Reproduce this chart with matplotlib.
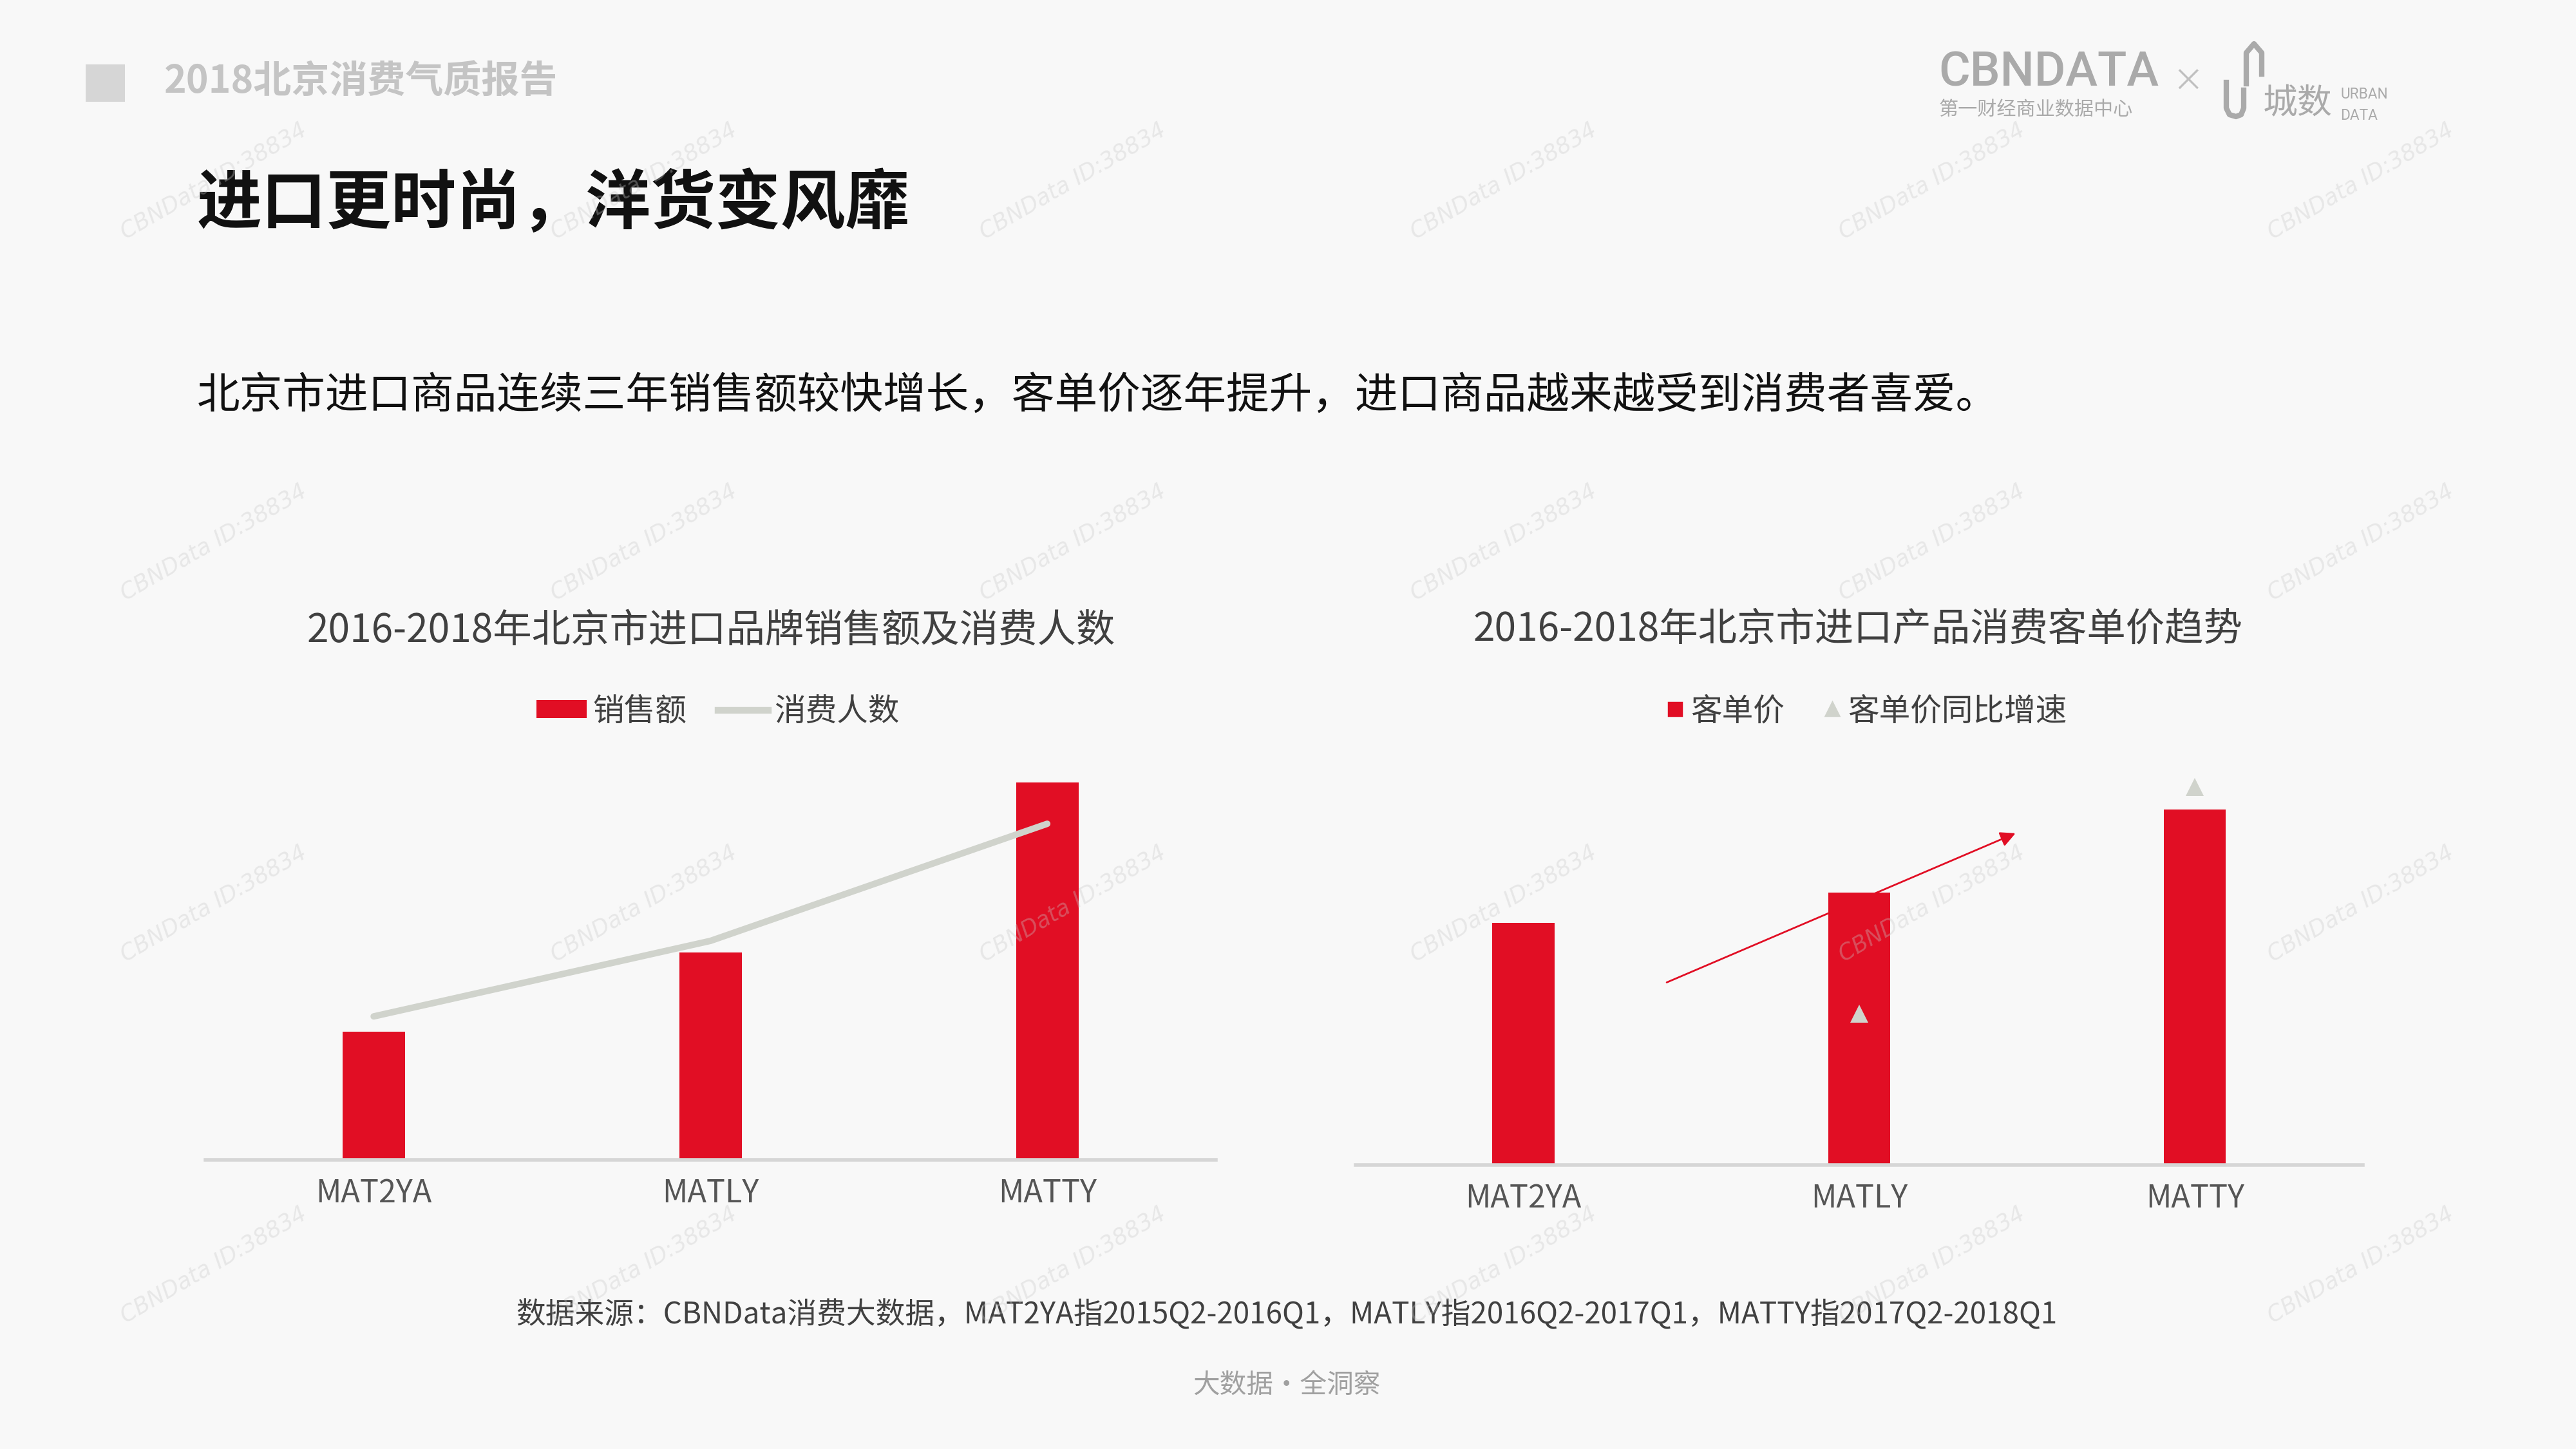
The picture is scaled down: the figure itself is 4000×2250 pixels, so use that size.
import matplotlib.pyplot as plt
from matplotlib.patches import Patch, Rectangle
from matplotlib.lines import Line2D

plt.rcParams['font.family'] = ['Noto Sans CJK SC', 'DejaVu Sans']

# data (relative index values, no axis values shown)
periods = ['MAT2YA', 'MATLY', 'MATTY']
sales_amount = [3.4, 5.5, 10.0]        # 销售额
consumers = [3.8, 5.8, 8.9]            # 消费人数
unit_price = [6.4, 7.2, 9.4]           # 客单价
unit_price_yoy = [float('nan'), 4.0, 10.0]  # 客单价同比增速

RED = '#e10e24'
LINE_GRAY = '#d0d3cc'
BG = '#f8f8f8'

fig = plt.figure(figsize=(16, 9), dpi=250, facecolor=BG)

# header block
fig.add_artist(Rectangle((0.0333, 0.9298), 0.0153, 0.0258, transform=fig.transFigure,
                         color='#d6d6d6', lw=0))
fig.text(0.0638, 0.9433, '2018北京消费气质报告', fontsize=17, fontweight='bold',
         color='#c4c4c4', va='center', ha='left')
fig.text(0.0765, 0.8585, '进口更时尚，洋货变风靡', fontsize=29, fontweight='bold',
         color='#111111', va='center', ha='left')
fig.text(0.0765, 0.7268, '北京市进口商品连续三年销售额较快增长，客单价逐年提升，进口商品越来越受到消费者喜爱。',
         fontsize=19.2, color='#111111', va='center', ha='left')

# logo (approximation)
LOGO = '#aaaaaa'
fig.text(0.7526, 0.950, 'CBNDATA', family='Roboto', fontsize=21.5, fontweight='medium',
         color=LOGO, va='center', ha='left')
fig.text(0.7526, 0.924, '第一财经商业数据中心', fontsize=8.7, color=LOGO, va='center', ha='left')
fig.text(0.8495, 0.943, '×', fontsize=14, color='#c0c0c0', va='center', ha='center')
fig.text(0.8785, 0.929, '城数', fontsize=15.5, color=LOGO, va='center', ha='left')
fig.text(0.9085, 0.935, 'URBAN', family='Roboto', fontsize=6.5, color=LOGO, va='center', ha='left')
fig.text(0.9085, 0.920, 'DATA', family='Roboto', fontsize=6.5, color=LOGO, va='center', ha='left')
ux = [3457, 3457, 3462, 3472, 3480, 3484, 3484]
uy = [128, 168, 178, 181, 178, 168, 140]
fig.add_artist(Line2D([v / 4000 for v in ux], [1 - v / 2250 for v in uy],
                      transform=fig.transFigure, color=LOGO, lw=2.4))
ax_ = [3488, 3488, 3500, 3512, 3512]
ay_ = [130, 82, 68, 82, 115]
fig.add_artist(Line2D([v / 4000 for v in ax_], [1 - v / 2250 for v in ay_],
                      transform=fig.transFigure, color=LOGO, lw=2.4))


def style_axis(ax):
    ax.set_facecolor('none')
    for s in ['top', 'right', 'left']:
        ax.spines[s].set_visible(False)
    ax.spines['bottom'].set_color('#d6d6d6')
    ax.spines['bottom'].set_linewidth(1.6)
    ax.set_yticks([])
    ax.tick_params(axis='x', length=0, pad=8, labelsize=14, labelcolor='#555555')
    ax.set_xlim(-0.5, 2.5)


# left chart
ax1 = fig.add_axes([0.0797, 0.1995, 0.3922, 0.2789])
style_axis(ax1)
ax1.bar(range(3), sales_amount, width=0.185, color=RED, zorder=2)
ax1.plot(range(3), consumers, color=LINE_GRAY, lw=2.9, solid_capstyle='round', zorder=3)
ax1.set_ylim(0, 10.7)
ax1.set_xticks(range(3))
ax1.set_xticklabels(periods)
fig.text(0.276, 0.5646, '2016-2018年北京市进口品牌销售额及消费人数', fontsize=17.4,
         color='#404040', ha='center', va='center')
h1 = [Patch(facecolor=RED, edgecolor='none'),
      Line2D([], [], color=LINE_GRAY, lw=3)]
fig.legend(h1, ['销售额', '消费人数'], loc='center', bbox_to_anchor=(0.2787, 0.509),
           ncol=2, frameon=False, fontsize=14, handlelength=1.6, handleheight=0.5,
           handletextpad=0.2, columnspacing=1.0, labelcolor='#404040')

# right chart
ax2 = fig.add_axes([0.5262, 0.1961, 0.391, 0.2823])
style_axis(ax2)
ax2.bar(range(3), unit_price, width=0.185, color=RED, zorder=2)
ax2.set_ylim(0, 10.83)
ax2.set_xticks(range(3))
ax2.set_xticklabels(periods)
ax2b = ax2.twinx()
ax2b.set_ylim(0, 10.83)
ax2b.axis('off')
ax2b.plot(range(3), unit_price_yoy, ls='none', marker='^', ms=8, color=LINE_GRAY,
          markeredgewidth=0, zorder=4)
ax2.annotate('', xy=(1.466, 8.78), xytext=(0.427, 4.83),
             arrowprops=dict(arrowstyle='-|>', color=RED, lw=0.8, mutation_scale=14,
                             shrinkA=0, shrinkB=0), zorder=5)
fig.text(0.7213, 0.5658, '2016-2018年北京市进口产品消费客单价趋势', fontsize=17.4,
         color='#404040', ha='center', va='center')
h2 = [Line2D([], [], ls='none', marker='s', ms=6, color=RED),
      Line2D([], [], ls='none', marker='^', ms=6, color=LINE_GRAY)]
fig.legend(h2, ['客单价', '客单价同比增速'], loc='center', bbox_to_anchor=(0.7245, 0.509),
           ncol=2, frameon=False, fontsize=14, handlelength=0.6, handletextpad=0.2,
           columnspacing=1.2, labelcolor='#404040')

# footer
fig.text(0.4994, 0.093, '数据来源：CBNData消费大数据，MAT2YA指2015Q2-2016Q1，MATLY指2016Q2-2017Q1，MATTY指2017Q2-2018Q1',
         fontsize=13.2, color='#404040', ha='center', va='center')
fig.text(0.4994, 0.044, '大数据·全洞察', fontsize=12, color='#a0a0a0', ha='center', va='center')

# watermarks
for wx in [130, 392, 653, 915, 1176, 1437]:
    for wy in [110, 330, 550, 770]:
        fig.text(wx / 1568, 1 - wy / 882, 'CBNData ID:38834', family='DejaVu Sans',
                 style='oblique', fontsize=10, color='#c8c8c8', alpha=0.35, rotation=30,
                 ha='center', va='center', zorder=10)

fig.savefig('out.png', dpi=250, facecolor=BG)
